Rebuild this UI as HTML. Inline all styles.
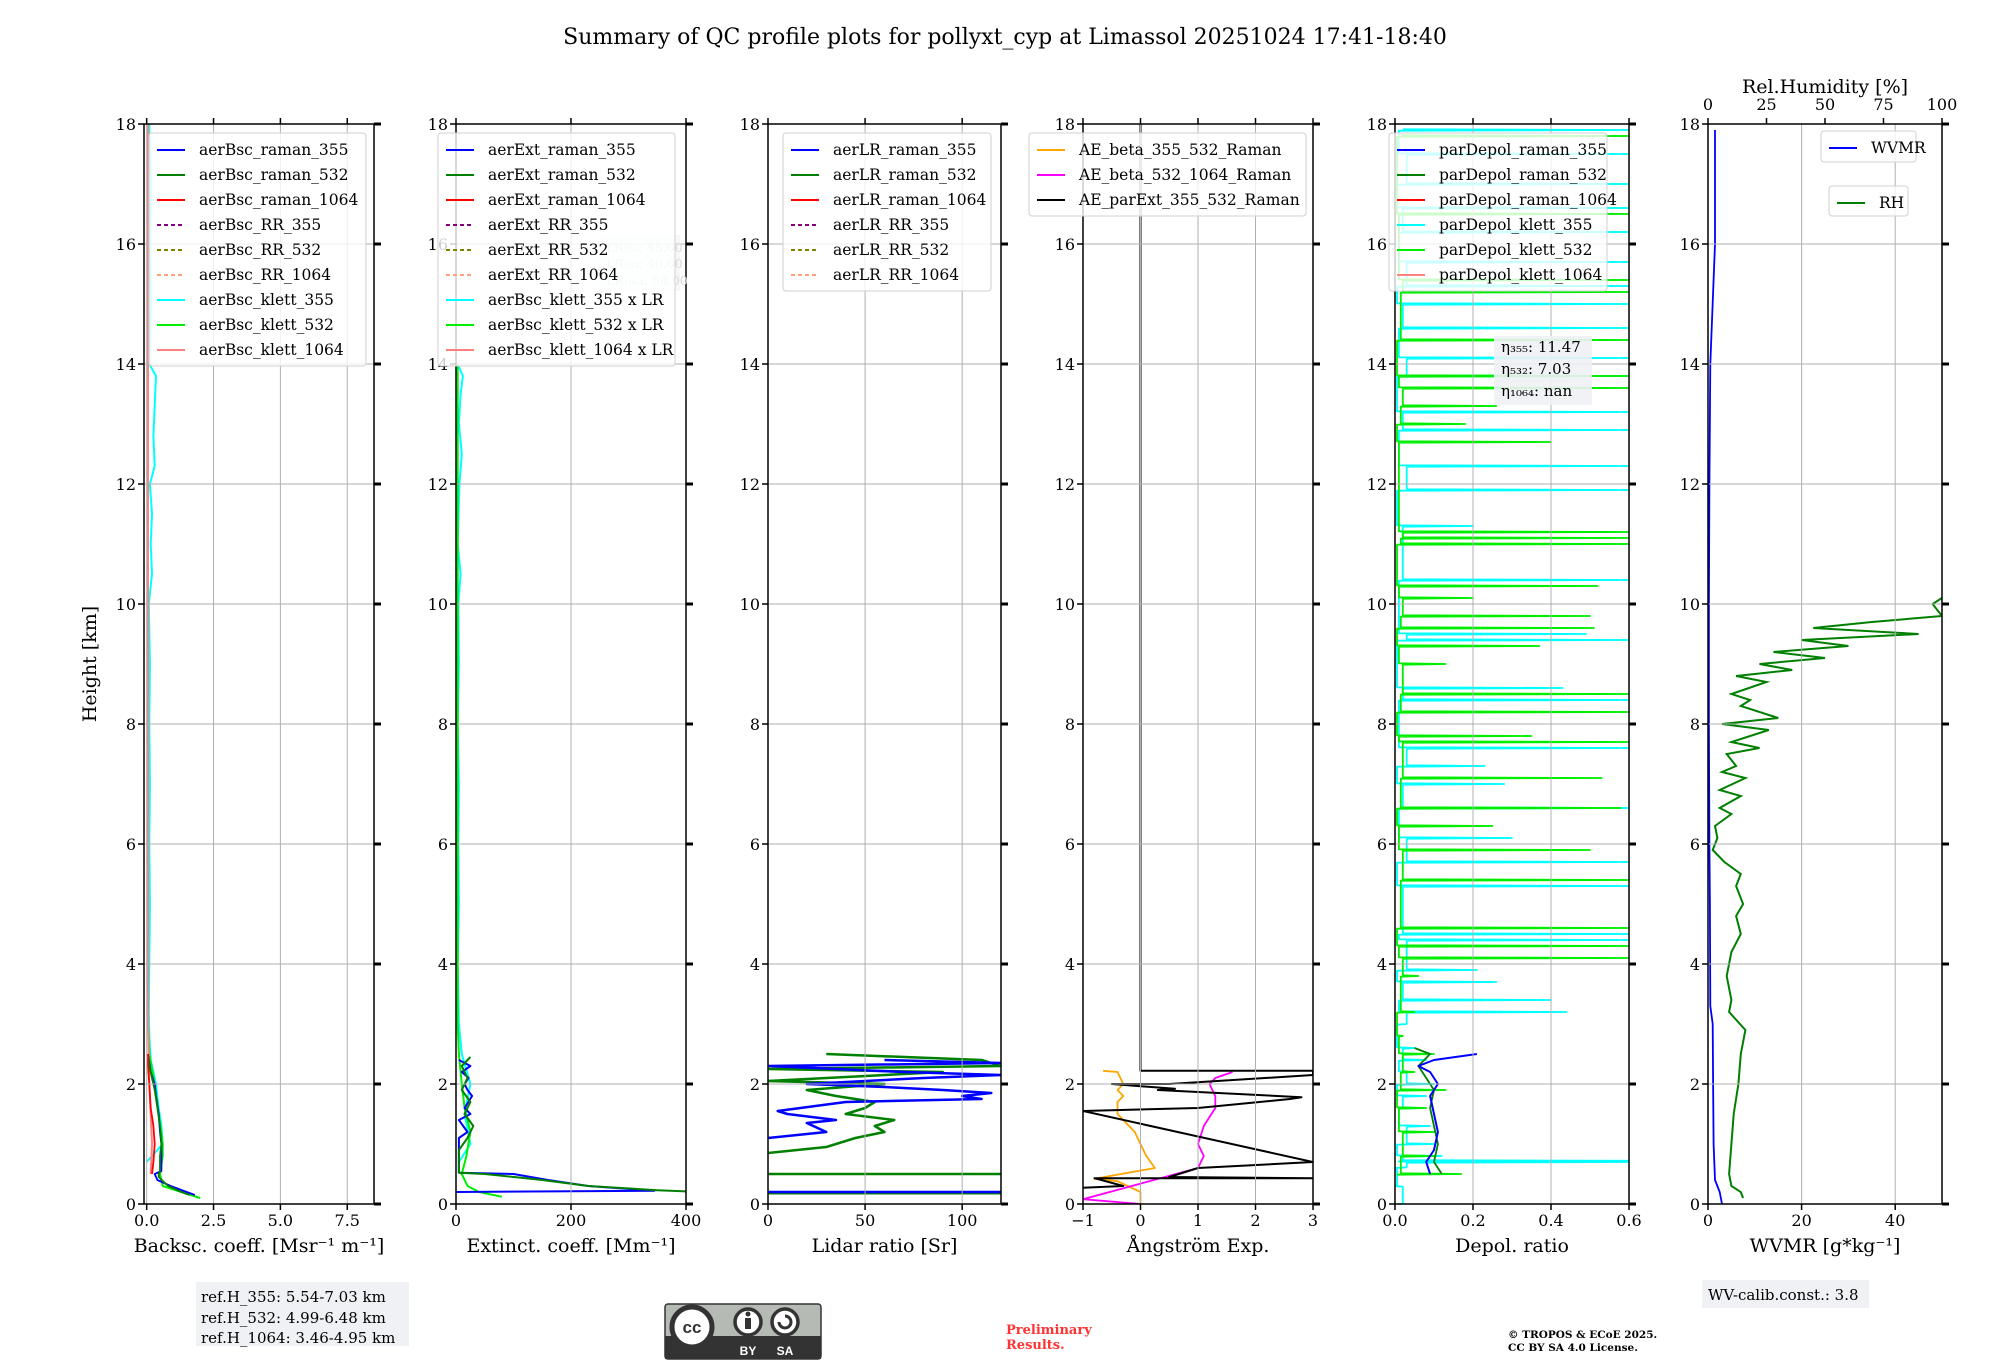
<!DOCTYPE html>
<html><head><meta charset="utf-8">
<style>
html,body{margin:0;padding:0;background:#fff;}
svg{display:block;font-family:"DejaVu Serif","Liberation Serif",serif;}
</style></head>
<body>
<svg id="fig" width="2000" height="1360" viewBox="0 0 2000 1360" xmlns="http://www.w3.org/2000/svg">
<text x="1005" y="44" font-size="22" text-anchor="middle">Summary of QC profile plots for pollyxt_cyp at Limassol 20251024 17:41-18:40</text>
<text x="96" y="664" font-size="19" text-anchor="middle" transform="rotate(-90 96 664)">Height [km]</text>
<g id="panels"></g>
<rect x="196" y="1282" width="213" height="64" fill="#f0f1f5"/>
<text font-size="15"><tspan x="201" y="1302">ref.H_355: 5.54-7.03 km</tspan><tspan x="201" y="1323">ref.H_532: 4.99-6.48 km</tspan><tspan x="201" y="1343">ref.H_1064: 3.46-4.95 km</tspan></text>
<rect x="1702" y="1280" width="167" height="28" fill="#f0f1f5"/>
<text x="1708" y="1300" font-size="15">WV-calib.const.: 3.8</text>
<g>
<rect x="665" y="1304" width="156" height="55" rx="3" fill="#b5bab5" stroke="#333" stroke-width="1.5"/>
<rect x="665" y="1336" width="156" height="23" fill="#333"/>
<circle cx="692" cy="1327" r="20" fill="#fff" stroke="#333" stroke-width="5"/>
<text x="692" y="1333" font-family="Liberation Sans,sans-serif" font-weight="bold" font-size="17" text-anchor="middle" fill="#333">cc</text>
<circle cx="748" cy="1322" r="13" fill="#fff" stroke="#333" stroke-width="3.5"/>
<rect x="745" y="1318" width="6" height="11" fill="#333"/><circle cx="748" cy="1314" r="2.5" fill="#333"/>
<circle cx="785" cy="1322" r="13" fill="#fff" stroke="#333" stroke-width="3.5"/>
<path d="M779 1322 a6 6 0 1 0 6 -6" fill="none" stroke="#333" stroke-width="3"/>
<text x="748" y="1355" font-family="Liberation Sans,sans-serif" font-weight="bold" font-size="12" text-anchor="middle" fill="#fff">BY</text>
<text x="785" y="1355" font-family="Liberation Sans,sans-serif" font-weight="bold" font-size="12" text-anchor="middle" fill="#fff">SA</text>
</g>
<text font-size="13" font-weight="bold" fill="#ff3333"><tspan x="1006" y="1334">Preliminary</tspan><tspan x="1006" y="1349">Results.</tspan></text>
<text font-size="10.5" font-weight="bold"><tspan x="1508" y="1338">© TROPOS &amp; ECoE 2025.</tspan><tspan x="1508" y="1351">CC BY SA 4.0 License.</tspan></text>
</svg>
<script>
// ---------- data arrays ----------
const yTicks = [0,2,4,6,8,10,12,14,16,18];
const p1Ticks = [0,2.5,5,7.5], p1TickLabels = ["0.0","2.5","5.0","7.5"];
const p2Ticks = [0,200,400];
const p3Ticks = [0,50,100];
const p4Ticks = [-1,0,1,2,3], p4TickLabels = ["\u22121","0","1","2","3"];
const p5Ticks = [0,0.2,0.4,0.6], p5TickLabels = ["0.0","0.2","0.4","0.6"];
const p6Ticks = [0,20,40];
const p6TopTicks = [0,25,50,75,100];

const bsc355H = [0.15,0.2,0.3,0.4,0.5,0.55,0.8,1.0,1.2,1.5,1.8,2.0,2.2,2.5];
const bsc355V = [1.8,1.5,0.9,0.4,0.3,0.55,0.55,0.55,0.5,0.45,0.35,0.3,0.15,0.05];
const bsc532H = [0.15,0.2,0.3,0.45,0.5,0.55,0.8,1.0,1.3,1.6,1.9,2.1,2.3,2.5];
const bsc532V = [1.6,1.3,0.8,0.45,0.45,0.5,0.5,0.55,0.5,0.4,0.3,0.2,0.1,0.05];
const bsc1064H = [0.5,0.7,1.0,1.3,1.6,2.0,2.3,2.5];
const bsc1064V = [0.2,0.25,0.3,0.25,0.15,0.1,0.05,0.05];
const bscK355H = [0.7,1.0,1.3,1.6,2.0,2.4,2.8,3.2,4,5,6,7,8,9,10,10.5,11,11.5,12,12.3,12.8,13.3,13.8,14,15,16,17,18];
const bscK355V = [0.0,0.6,0.55,0.45,0.35,0.15,0.1,0.08,0.1,0.12,0.1,0.12,0.1,0.12,0.08,0.2,0.15,0.2,0.12,0.3,0.25,0.3,0.35,0.1,0.15,0.12,0.15,0.1];
const bscK532H = [0.1,0.2,0.3,0.5,0.8,1.0,1.5,2.0,2.5,3,5,8,10,12,14,16,18];
const bscK532V = [2.0,1.3,0.6,0.5,0.6,0.6,0.45,0.3,0.1,0.05,0.05,0.05,0.05,0.05,0.05,0.05,0.05];
const bscK1064H = [0.5,1.0,2.0,3,6,10,14,18];
const bscK1064V = [0.15,0.2,0.1,0.05,0.05,0.05,0.05,0.05];

const ext355H = [0.2,0.22,0.3,0.4,0.5,0.52,1.1,1.2,1.4,1.5,1.6,1.8,1.9,2.0,2.1,2.2,2.3,2.4];
const ext355V = [0,345,230,160,100,5,5,20,5,25,15,28,20,15,22,10,25,5];
const ext532H = [0.19,0.21,0.23,0.3,0.4,0.5,0.52,0.9,1.1,1.3,1.5,1.7,1.9,2.1,2.3,2.45];
const ext532V = [400,400,350,230,150,50,5,5,20,30,15,25,10,20,10,25];
const extK355H = [0.7,1.0,1.5,2.0,2.5,3,4,5,6,7,8,9,10,10.5,11,12,12.5,13,13.5,13.8,14];
const extK355V = [5,25,15,25,10,5,3,5,4,5,3,5,4,8,3,6,10,5,8,12,3];
const extK532H = [0.12,0.2,0.3,0.5,0.8,1.2,1.6,2.0,2.5,3,6,10,14];
const extK532V = [80,40,20,10,18,25,15,10,5,3,3,3,3];

const lr355H = [1.1,1.2,1.35,1.4,1.5,1.55,1.7,1.75,1.8,1.85,1.9,1.95,2.0,2.1,2.15,2.2,2.3,2.35,2.4];
const lr355V = [0,30,20,35,10,5,40,110,100,115,90,60,20,80,120,70,0,120,60];
const lr532H = [0.85,0.95,1.1,1.2,1.3,1.4,1.5,1.6,1.7,1.8,1.9,2.0,2.05,2.2,2.25,2.3,2.4,2.5];
const lr532V = [0,30,45,60,55,65,40,50,55,35,20,60,0,90,0,120,110,30];
const lr355Flat = [0.2];
const lr532Flat = [0.18,0.5];

const ae355H = [0,0.2,0.38,0.42,0.6,0.8,1.0,1.2,1.5,1.7,1.8,1.9,2.0,2.1,2.2,2.22];
const ae355V = [0,0,-0.4,-0.8,0.25,0.1,0,-0.1,-0.4,-0.4,-0.3,-0.4,-0.3,-0.35,-0.4,-0.65];
const ae532H = [0.0,0.08,0.6,0.8,1.0,1.3,1.6,1.8,2.0,2.1,2.2];
const ae532V = [0,-1,1.0,1.1,1.0,1.1,1.3,1.3,1.2,1.3,1.6];
const aeExtH = [0.27,0.3,0.43,0.43,0.45,0.6,0.7,0.7,1.55,1.6,1.75,1.78,1.9,1.92,2.0,2.0,2.15,2.22,2.22,18];
const aeExtV = [-1,-0.3,-0.8,3,0.5,1.0,3,3,-1,1,2.6,2.8,0.3,0.6,-0.5,0.5,3,3,0,0];

const dep355H = [0.5,0.7,0.9,1.2,1.5,1.8,2.0,2.2,2.3,2.4,2.5];
const dep355V = [0.09,0.08,0.1,0.11,0.1,0.09,0.11,0.09,0.06,0.1,0.21];
const dep532H = [0.5,0.7,1.0,1.3,1.6,1.9,2.1,2.3,2.5,2.6];
const dep532V = [0.12,0.1,0.11,0.1,0.09,0.1,0.08,0.06,0.09,0.05];
const depK355H = [0.0,0.3,0.6,0.7,0.72,0.8,1.0,1.3,1.6,1.8,2.0,2.2,2.4,2.6,3.0,3.2,3.4,3.7,3.9,4.4,4.5,5.3,5.7,6.1,6.6,7.0,7.3,7.6,8.4,8.6,9.4,9.5,10.4,11.3,11.9,12.3,12.9,13.2,13.8,14.1,14.6,15.0,15.3,15.7,16.2,16.6,17.0,17.5,17.9];
const depK355V = [0.01,0.0,0.0,0.6,0.6,0.12,0.1,0.09,0.06,0.08,0.1,0.03,0.08,0.05,0.03,0.44,0.4,0.26,0.21,0.6,0.6,0.6,0.6,0.3,0.6,0.28,0.23,0.6,0.6,0.43,0.6,0.49,0.6,0.2,0.6,0.6,0.6,0.6,0.6,0.6,0.6,0.6,0.6,0.6,0.6,0.6,0.6,0.6,0.6];
const depK532H = [0.5,0.8,1.2,1.6,1.9,2.2,2.5,2.8,3.2,3.8,4.1,4.3,4.6,5.4,5.9,6.3,6.6,7.1,7.7,7.8,8.2,8.5,9.0,9.3,9.6,9.8,10.1,10.3,11.0,11.1,11.2,12.7,13.0,13.3,13.6,13.8,14.4,15.2,15.4,16.5,17.8];
const depK532V = [0.17,0.1,0.1,0.08,0.13,0.05,0.1,0.02,0.05,0.06,0.6,0.6,0.6,0.6,0.5,0.25,0.58,0.53,0.6,0.35,0.6,0.6,0.13,0.37,0.51,0.5,0.2,0.52,0.6,0.6,0.6,0.4,0.18,0.26,0.6,0.6,0.6,0.6,0.6,0.6,0.6];

const wvH = [0.0,0.2,0.4,1.0,2.0,3.0,3.3,5.0,6.0,8.0,10.0,12,14,16,17.9];
const wvV = [3.0,2.5,1.5,1.2,1.1,1.0,0.5,0.4,0.3,0.2,0.2,0.3,0.5,1.5,1.5];
const rhH = [0.1,0.2,0.3,0.5,1.0,1.5,2.0,2.5,2.9,3.2,3.4,3.8,4.2,4.5,4.8,5.0,5.3,5.5,5.7,5.9,6.1,6.3,6.5,6.6,6.8,6.9,7.1,7.2,7.3,7.5,7.6,7.7,7.9,8.0,8.1,8.3,8.4,8.5,8.7,8.8,8.9,9.0,9.1,9.2,9.3,9.4,9.5,9.6,9.7,9.8,10.0,10.1];
const rhV = [15,14,10,9,10,11,13,14,16,9,10,8,10,14,12,15,12,14,7,2,4,3,10,5,14,5,16,6,12,8,22,10,26,6,30,14,18,10,25,12,36,22,50,28,60,40,90,45,70,100,96,100];

// ---------- drawing ----------
const NS = "http://www.w3.org/2000/svg";
const svg = document.getElementById("panels");
const Y0 = 1204, Y1 = 124;
function yScale(h){ return Y0 + (h/18)*(Y1-Y0); }
function mk(tag, attrs, name, parent){
  const el = document.createElementNS(NS, tag);
  for (const k in attrs) el.setAttribute(k, attrs[k]);
  
  
  (parent||svg).appendChild(el);
  return el;
}
function txt(x,y,s,size,anchor,name,parent,fill){
  const t = mk("text",{x:x,y:y,"font-size":size,"text-anchor":anchor||"start",fill:fill||"#000"},name,parent);
  t.textContent = s; return t;
}
const panels = [
  {id:"backscatter",x0:144,x1:374,lo:-0.1,hi:8.5,ticks:p1Ticks,labels:p1TickLabels,xlabel:"Backsc. coeff. [Msr\u207B\u00B9 m\u207B\u00B9]"},
  {id:"extinction",x0:456,x1:686,lo:0,hi:400,ticks:p2Ticks,labels:p2Ticks.map(String),xlabel:"Extinct. coeff. [Mm\u207B\u00B9]"},
  {id:"lidar-ratio",x0:768,x1:1001,lo:0,hi:120,ticks:p3Ticks,labels:p3Ticks.map(String),xlabel:"Lidar ratio [Sr]"},
  {id:"angstrom",x0:1083,x1:1313,lo:-1,hi:3,ticks:p4Ticks,labels:p4TickLabels,xlabel:"\u00C5ngstr\u00F6m Exp."},
  {id:"depol",x0:1395,x1:1629,lo:0,hi:0.6,ticks:p5Ticks,labels:p5TickLabels,xlabel:"Depol. ratio"},
  {id:"wvmr",x0:1708,x1:1942,lo:0,hi:50,ticks:p6Ticks,labels:p6Ticks.map(String),xlabel:"WVMR [g*kg\u207B\u00B9]"}
];
panels.forEach(function(p){
  p.sx = function(v){ return p.x0 + (v-p.lo)/(p.hi-p.lo)*(p.x1-p.x0); };
  const g = mk("g",{},"panel-"+p.id);
  const cp = mk("clipPath",{id:"clip-"+p.id},"clip-"+p.id,g);
  mk("rect",{x:p.x0,y:Y1,width:p.x1-p.x0,height:Y0-Y1},"clip-rect",cp);
  p.g = g;
  p.data = mk("g",{"clip-path":"url(#clip-"+p.id+")"},"series-group-"+p.id,g);
  p.ticks.forEach(function(t){
    mk("line",{x1:p.sx(t),x2:p.sx(t),y1:Y1,y2:Y0,stroke:"#b0b0b0","stroke-width":1},"x-gridline",g);
  });
  yTicks.forEach(function(t){
    mk("line",{x1:p.x0,x2:p.x1,y1:yScale(t),y2:yScale(t),stroke:"#b0b0b0","stroke-width":1},"y-gridline",g);
  });
});
function poly(p, H, V, color, w, name, dash){
  const pts = H.map(function(h,i){ return p.sx(V[i]).toFixed(1)+","+yScale(h).toFixed(1); }).join(" ");
  const a = {points:pts,fill:"none",stroke:color,"stroke-width":w||1.5,"stroke-linejoin":"round"};
  if (dash) a["stroke-dasharray"] = dash;
  mk("polyline",a,name,p.data);
}
function spikes(p, H, V, base, color, name){
  const hh = [], vv = [];
  H.forEach(function(h,i){ hh.push(h-0.012,h,h+0.012); vv.push(base[i%base.length],V[i],base[(i+1)%base.length]); });
  poly(p, hh, vv, color, 1.8, name);
}
function flat(p, H, color, name){
  H.forEach(function(h){ mk("line",{x1:p.x0,x2:p.x1,y1:yScale(h),y2:yScale(h),stroke:color,"stroke-width":2.5},name,p.data); });
}
const P = panels;
poly(P[0], bscK355H, bscK355V, "#00ffff", 2, "aerBsc-klett-355");
poly(P[0], bscK532H, bscK532V, "#00ee00", 2, "aerBsc-klett-532");
poly(P[0], bscK1064H, bscK1064V, "#ff8080", 2, "aerBsc-klett-1064");
poly(P[0], bsc355H, bsc355V, "#0000ff", 1.8, "aerBsc-raman-355");
poly(P[0], bsc532H, bsc532V, "#008000", 1.8, "aerBsc-raman-532");
poly(P[0], bsc1064H, bsc1064V, "#ff0000", 1.8, "aerBsc-raman-1064");
poly(P[1], extK355H, extK355V, "#00ffff", 2, "aerExt-klett-355");
poly(P[1], extK532H, extK532V, "#00ee00", 2, "aerExt-klett-532");
poly(P[1], ext355H, ext355V, "#0000ff", 2, "aerExt-raman-355");
poly(P[1], ext532H, ext532V, "#008000", 2, "aerExt-raman-532");
flat(P[2], lr532Flat, "#008000", "aerLR-raman-532-flat");
flat(P[2], lr355Flat, "#0000ff", "aerLR-raman-355-flat");
poly(P[2], lr532H, lr532V, "#008000", 2.5, "aerLR-raman-532");
poly(P[2], lr355H, lr355V, "#0000ff", 2.5, "aerLR-raman-355");
poly(P[3], ae355H, ae355V, "#ffa500", 1.8, "AE-beta-355-532");
poly(P[3], ae532H, ae532V, "#ff00ff", 1.8, "AE-beta-532-1064");
poly(P[3], aeExtH, aeExtV, "#000000", 2, "AE-parExt-355-532");
spikes(P[4], depK355H, depK355V, [0.01,0.02,0.005,0.03], "#00ffff", "parDepol-klett-355");
spikes(P[4], depK532H, depK532V, [0.005,0.015,0.02,0.01], "#00ee00", "parDepol-klett-532");
poly(P[4], dep532H, dep532V, "#008000", 1.8, "parDepol-raman-532");
poly(P[4], dep355H, dep355V, "#0000ff", 2, "parDepol-raman-355");
poly(P[5], wvH, wvV, "#0000ff", 1.8, "wvmr-line");
const rhScale = function(v){ return P[5].x0 + v/100*(P[5].x1-P[5].x0); };
(function(){
  const pts = rhH.map(function(h,i){ return rhScale(rhV[i]).toFixed(1)+","+yScale(h).toFixed(1); }).join(" ");
  mk("polyline",{points:pts,fill:"none",stroke:"#008000","stroke-width":2},"rh-line",P[5].data);
})();

panels.forEach(function(p, idx){
  const g = p.g;
  mk("rect",{x:p.x0,y:Y1,width:p.x1-p.x0,height:Y0-Y1,fill:"none",stroke:"#000","stroke-width":1.5},"axes-frame",g);
  p.ticks.forEach(function(t,i){
    const x = p.sx(t);
    mk("line",{x1:x,x2:x,y1:Y0,y2:Y0+6,stroke:"#000","stroke-width":1.5},"x-tick",g);
    if (idx < 5) mk("line",{x1:x,x2:x,y1:Y1,y2:Y1-6,stroke:"#000","stroke-width":1.5},"x-tick-top",g);
    txt(x, Y0+22, p.labels[i], 16, "middle", "x-tick-label", g);
  });
  yTicks.forEach(function(t){
    const y = yScale(t);
    mk("line",{x1:p.x0-6,x2:p.x0,y1:y,y2:y,stroke:"#000","stroke-width":1.5},"y-tick",g);
    mk("line",{x1:p.x1,x2:p.x1+7,y1:y,y2:y,stroke:"#000","stroke-width":3},"y-tick-right",g);
    txt(p.x0-8, y+6, String(t), 16, "end", "y-tick-label", g);
  });
  txt((p.x0+p.x1)/2, 1252, p.xlabel, 19, "middle", "x-axis-title", g);
});
p6TopTicks.forEach(function(t){
  const x = rhScale(t);
  mk("line",{x1:x,x2:x,y1:Y1,y2:Y1-6,stroke:"#000","stroke-width":1.5},"rh-top-tick",P[5].g);
  txt(x, 110, String(t), 16, "middle", "rh-top-tick-label", P[5].g);
});
txt(1825, 93, "Rel.Humidity [%]", 19, "middle", "rh-top-axis-title", P[5].g);

function legend(x, y, w, entries, name, spacing){
  const lg = mk("g",{},name);
  const sp = spacing || 25;
  mk("rect",{x:x,y:y,width:w,height:entries.length*sp+8,rx:3,fill:"#fff","fill-opacity":0.8,stroke:"#d0d0d0"},"legend-box",lg);
  entries.forEach(function(e,i){
    const yy = y + 17 + i*sp;
    const a = {x1:x+8,x2:x+36,y1:yy,y2:yy,stroke:e[1],"stroke-width":2};
    if (e[2]) a["stroke-dasharray"] = "4,3";
    mk("line",a,"legend-swatch",lg);
    txt(x+50, yy+5, e[0], 15.5, "start", "legend-entry", lg);
  });
}
legend(149,133,217,[["aerBsc_raman_355","#0000ff"],["aerBsc_raman_532","#008000"],["aerBsc_raman_1064","#ff0000"],["aerBsc_RR_355","#800080",1],["aerBsc_RR_532","#808000",1],["aerBsc_RR_1064","#ffa07a",1],["aerBsc_klett_355","#00ffff"],["aerBsc_klett_532","#00ee00"],["aerBsc_klett_1064","#ff8080"]],"legend-backscatter");
mk("rect",{x:598,y:235,width:82,height:56,fill:"#f0f1f5","fill-opacity":0.6},"lr-info-box");
txt(606,252,"LR\u2083\u2085\u2085: 45.00",12.5,"start","lr-355-note",null,"#d8d8d8");
txt(606,268,"LR\u2085\u2083\u2082: 40.00",12.5,"start","lr-532-note",null,"#d8d8d8");
txt(606,285,"LR\u2081\u2080\u2086\u2084: 50.00",12.5,"start","lr-1064-note",null,"#d8d8d8");
legend(438,133,237,[["aerExt_raman_355","#0000ff"],["aerExt_raman_532","#008000"],["aerExt_raman_1064","#ff0000"],["aerExt_RR_355","#800080",1],["aerExt_RR_532","#808000",1],["aerExt_RR_1064","#ffa07a",1],["aerBsc_klett_355 x LR","#00ffff"],["aerBsc_klett_532 x LR","#00ee00"],["aerBsc_klett_1064 x LR","#ff8080"]],"legend-extinction");
legend(783,133,208,[["aerLR_raman_355","#0000ff"],["aerLR_raman_532","#008000"],["aerLR_raman_1064","#ff0000"],["aerLR_RR_355","#800080",1],["aerLR_RR_532","#808000",1],["aerLR_RR_1064","#ffa07a",1]],"legend-lidar-ratio");
legend(1029,133,277,[["AE_beta_355_532_Raman","#ffa500"],["AE_beta_532_1064_Raman","#ff00ff"],["AE_parExt_355_532_Raman","#000000"]],"legend-angstrom");
legend(1389,133,218,[["parDepol_raman_355","#0000ff"],["parDepol_raman_532","#008000"],["parDepol_raman_1064","#ff0000"],["parDepol_klett_355","#00ffff"],["parDepol_klett_532","#00ee00"],["parDepol_klett_1064","#ff8080"]],"legend-depol");
mk("rect",{x:1494,y:336,width:98,height:69,fill:"#f0f1f5","fill-opacity":0.9},"eta-box");
txt(1501,352,"\u03B7\u2083\u2085\u2085: 11.47",15,"start","eta-355-note");
txt(1501,374,"\u03B7\u2085\u2083\u2082: 7.03",15,"start","eta-532-note");
txt(1501,396,"\u03B7\u2081\u2080\u2086\u2084: nan",15,"start","eta-1064-note");
legend(1821,131,95,[["WVMR","#0000ff"]],"legend-wvmr",23);
legend(1829,186,79,[["RH","#008000"]],"legend-rh",22);
</script>
</body></html>
